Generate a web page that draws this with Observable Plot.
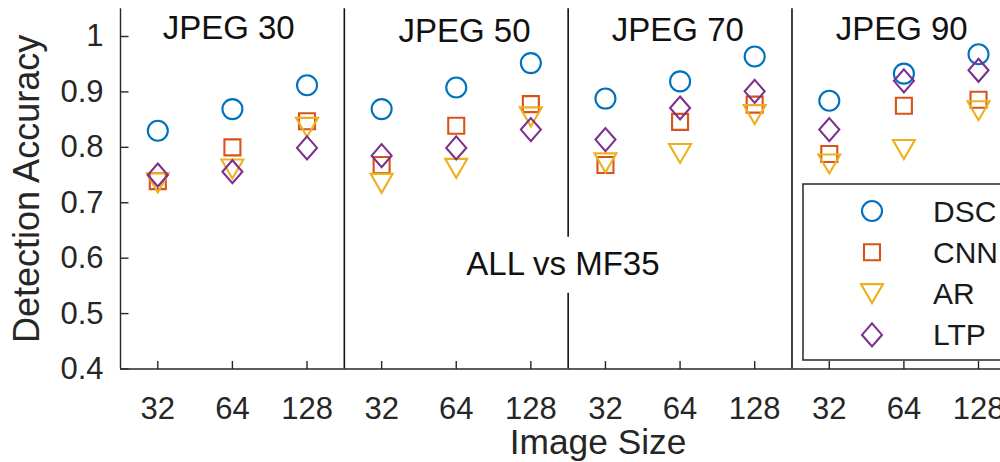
<!DOCTYPE html>
<html><head><meta charset="utf-8">
<script src="https://cdn.jsdelivr.net/npm/d3@7"></script>
<script src="https://cdn.jsdelivr.net/npm/@observablehq/plot@0.6"></script>
<style>
html,body{margin:0;padding:0;overflow:hidden;background:#fff;}
#wrap{position:relative;width:1000px;height:462px;overflow:hidden;background:#fff;}
#wrap svg{display:block;max-width:none !important;}
#legend{position:absolute;left:0;top:0}
</style></head><body><div id="wrap"></div>
<script>
// ---- data ----
const positions = [1,2,3,4,5,6,7,8,9,10,11,12];
const sizeLabels = ["32","64","128","32","64","128","32","64","128","32","64","128"];
const separators = [3.5, 6.5, 9.5];
const groupLabels = ["JPEG 30","JPEG 50","JPEG 70","JPEG 90"];
const groupLabelX = [1.95, 5.11, 7.97, 10.97];
const groupLabelY = [1.0144, 1.009, 1.011, 1.0135];
const annotationText = ["ALL vs MF35"];
const annotationX = [6.43];
const annotationY = [0.588];
const seriesNames = ["DSC","CNN","AR","LTP"];
const seriesColors = ["#0072BD","#D95319","#EDB120","#7E2F8E"];
const dsc = [0.830,0.869,0.912, 0.869,0.908,0.952, 0.888,0.919,0.964, 0.884,0.933,0.968];
const cnn = [0.739,0.800,0.847, 0.768,0.839,0.878, 0.768,0.846,0.877, 0.788,0.875,0.886];
const ar  = [0.736,0.761,0.836, 0.735,0.762,0.855, 0.772,0.789,0.859, 0.770,0.796,0.866];
const ltp = [0.750,0.756,0.799, 0.785,0.799,0.832, 0.814,0.871,0.901, 0.832,0.920,0.939];
const yTicks = [0.4,0.5,0.6,0.7,0.8,0.9,1];
const yTickLabels = ["0.4","0.5","0.6","0.7","0.8","0.9","1"];
const xLabel = "Image Size";
const yLabel = "Detection Accuracy";
const xDomain = [0.5, 13.3];
const yDomain = [0.4, 1.05];

// ---- symbols ----
const symCircle = {draw(c){ c.moveTo(10,0); c.arc(0,0,10,0,2*Math.PI); }};
const symSquare = {draw(c){ c.moveTo(-8,-8); c.lineTo(8,-8); c.lineTo(8,8); c.lineTo(-8,8); c.closePath(); }};
const symTriDown = {draw(c){ c.moveTo(-11,-9.5); c.lineTo(11,-9.5); c.lineTo(0,9.5); c.closePath(); }};
const symDiamond = {draw(c){ c.moveTo(0,-11.5); c.lineTo(10,0); c.lineTo(0,11.5); c.lineTo(-10,0); c.closePath(); }};
const seriesSymbols = [symCircle, symSquare, symTriDown, symDiamond];
const tickUp = {draw(c){ c.moveTo(0,0); c.lineTo(0,-8); }};
const tickRight = {draw(c){ c.moveTo(0,0); c.lineTo(8,0); }};
const bgBox = {draw(c){ c.moveTo(-108,-28); c.lineTo(108,-28); c.lineTo(108,28); c.lineTo(-108,28); c.closePath(); }};

const seriesValues = [dsc, cnn, ar, ltp];
const font = "'Liberation Sans', Arial, Helvetica, sans-serif";
const axisColor = "#262626";

const groupData = groupLabels.map((t,i)=>({t, x: groupLabelX[i], y: groupLabelY[i]}));
const annData = annotationText.map((t,i)=>({t, x: annotationX[i], y: annotationY[i]}));

const seriesMarks = seriesNames.map((name, s) =>
  Plot.dot(positions.map((x,i)=>({x, y: seriesValues[s][i], name})), {
    x: "x", y: "y", symbol: seriesSymbols[s], stroke: seriesColors[s], fill: "none", strokeWidth: 2.1
  })
);

const chart = Plot.plot({
  width: 1075, height: 462,
  marginLeft: 120, marginRight: 0, marginTop: 8.3, marginBottom: 93.5,
  style: {fontFamily: font, background: "white", overflow: "visible", maxWidth: "none"},
  x: {domain: xDomain, axis: null},
  y: {domain: yDomain, axis: null},
  marks: [
    Plot.ruleX(separators, {stroke: "#111", strokeWidth: 1.6}),
    Plot.dot(annData, {x: "x", y: "y", symbol: bgBox, fill: "white", stroke: "none"}),
    Plot.text(annData, {x: "x", y: "y", text: "t", fontSize: 33, fill: "#111"}),
    Plot.text(groupData, {x: "x", y: "y", text: "t", fontSize: 33, fill: "#111"}),
    Plot.ruleX([xDomain[0]], {stroke: axisColor, strokeWidth: 1.4}),
    Plot.ruleY([yDomain[0]], {stroke: axisColor, strokeWidth: 1.4}),
    Plot.dot(positions, {x: d=>d, frameAnchor: "bottom", symbol: tickUp, stroke: axisColor, fill: "none", strokeWidth: 1.4}),
    Plot.dot(yTicks, {y: d=>d, frameAnchor: "left", symbol: tickRight, stroke: axisColor, fill: "none", strokeWidth: 1.4}),
    Plot.text(positions, {x: d=>d, text: (d,i)=>sizeLabels[i], frameAnchor: "bottom", lineAnchor: "middle", dy: 40.5, fontSize: 31, fill: axisColor}),
    Plot.text(yTicks, {y: d=>d, text: (d,i)=>yTickLabels[i], frameAnchor: "left", textAnchor: "end", dx: -17, fontSize: 31, fill: axisColor}),
    Plot.text([yLabel], {frameAnchor: "left", textAnchor: "middle", lineAnchor: "middle", rotate: -90, dx: -93, fontSize: 36, fill: axisColor}),
    Plot.text([xLabel], {frameAnchor: "bottom", lineAnchor: "middle", dy: 73.5, fontSize: 35.3, fill: axisColor}),
    ...seriesMarks
  ]
});
chart.style.maxWidth = "none";
chart.style.width = "1075px";
chart.style.height = "462px";
const wrap = document.getElementById("wrap");
wrap.appendChild(chart);

// ---- legend overlay ----
const lg = d3.create("svg").attr("id","legend").attr("width",1000).attr("height",462)
  .style("font-family", font);
const bx = 803, by = 184, bh = 176;
lg.append("rect").attr("x",bx).attr("y",by).attr("width",300).attr("height",bh)
  .attr("fill","white").attr("stroke",axisColor).attr("stroke-width",1.5);
seriesNames.forEach((name,i)=>{
  const cy = by + 27 + i*41.3;
  lg.append("path").attr("d", d3.symbol(seriesSymbols[i], 64)())
    .attr("transform", `translate(${bx+69},${cy})`)
    .attr("fill","none").attr("stroke",seriesColors[i]).attr("stroke-width",2.1);
  lg.append("text").attr("x", bx+130).attr("y", cy).attr("dy","0.35em")
    .attr("font-size",30).attr("fill","#1a1a1a").text(name);
});
wrap.appendChild(lg.node());
</script></body></html>
